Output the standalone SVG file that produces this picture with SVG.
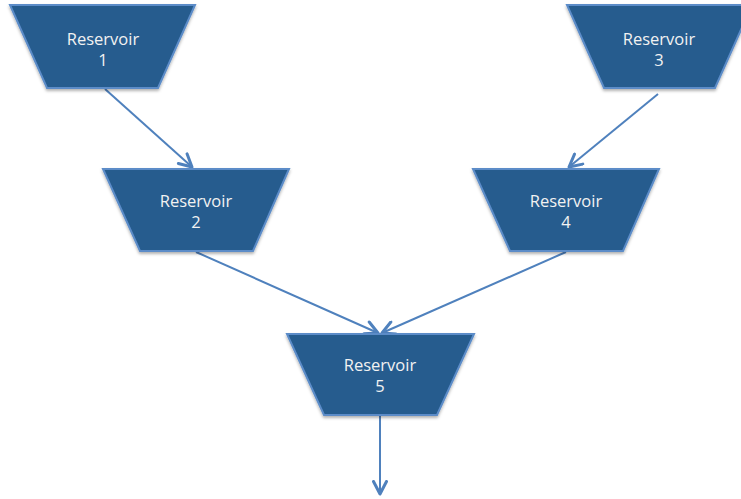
<svg xmlns="http://www.w3.org/2000/svg" width="741" height="499" viewBox="0 0 741 499">
<defs>
<style>
.node{fill:#265B8E;stroke:#5B8CC8;stroke-width:2;stroke-linejoin:miter}
.lbl{font-family:"Open Sans","Liberation Sans",sans-serif;font-size:16.5px;fill:#F2F2F2;text-anchor:middle}
.edge{stroke:#4F81BD;stroke-width:2;fill:none}
</style>
<marker id="arr" viewBox="0 0 16 16" refX="14.5" refY="8" markerWidth="16" markerHeight="16" markerUnits="userSpaceOnUse" orient="auto">
<path d="M2,1.5 L14.5,8 L2,14.5" fill="none" stroke="#4F81BD" stroke-width="3" stroke-linecap="round" stroke-linejoin="round"/>
</marker>
<filter id="sh" x="-10%" y="-10%" width="120%" height="130%">
<feDropShadow dx="0" dy="2" stdDeviation="1.5" flood-color="#000" flood-opacity="0.3"/>
</filter>
</defs>
<g id="connectors">
<line class="edge" x1="105" y1="89" x2="192" y2="167" marker-end="url(#arr)"/>
<line class="edge" x1="658" y1="94" x2="569" y2="167" marker-end="url(#arr)"/>
<line class="edge" x1="196" y1="252" x2="378" y2="333" marker-end="url(#arr)"/>
<line class="edge" x1="566" y1="252" x2="382" y2="333" marker-end="url(#arr)"/>
<line class="edge" x1="380" y1="416" x2="380" y2="494" marker-end="url(#arr)"/>
</g>
<g id="reservoir1">
<polygon class="node" filter="url(#sh)" points="10,5 195,5 158,88 47,88"/>
<text class="lbl" x="103" y="45">Reservoir</text>
<text class="lbl" x="103" y="66">1</text>
</g>
<g id="reservoir3">
<polygon class="node" filter="url(#sh)" points="567,5 752,5 715,88 604,88"/>
<text class="lbl" x="659" y="45">Reservoir</text>
<text class="lbl" x="659" y="66">3</text>
</g>
<g id="reservoir2">
<polygon class="node" filter="url(#sh)" points="103,169 289,169 253,251 140,251"/>
<text class="lbl" x="196" y="207">Reservoir</text>
<text class="lbl" x="196" y="228">2</text>
</g>
<g id="reservoir4">
<polygon class="node" filter="url(#sh)" points="473,169 659,169 623,251 510,251"/>
<text class="lbl" x="566" y="207">Reservoir</text>
<text class="lbl" x="566" y="228">4</text>
</g>
<g id="reservoir5">
<polygon class="node" filter="url(#sh)" points="287,334 474,334 437,415 324,415"/>
<text class="lbl" x="380" y="371">Reservoir</text>
<text class="lbl" x="380" y="392">5</text>
</g>
</svg>
